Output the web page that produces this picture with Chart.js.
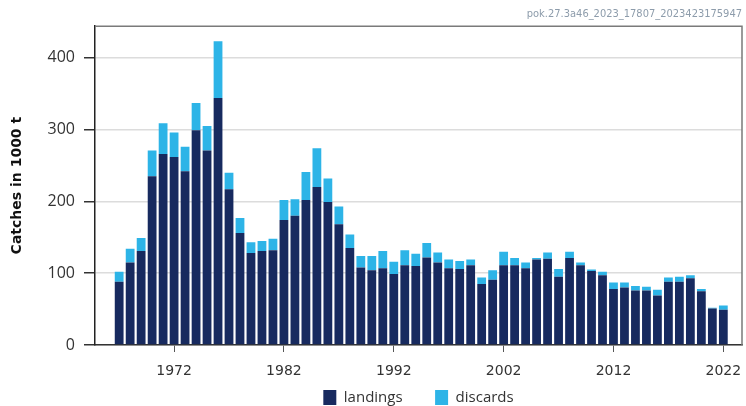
<!DOCTYPE html>
<html>
<head>
<meta charset="utf-8">
<script src="https://cdn.jsdelivr.net/npm/chart.js@4"></script>
<style>
  html, body { margin: 0; padding: 0; background: #fff; }
  canvas { display: block; }
</style>
</head>
<body>
<canvas id="catchChart" width="746" height="406"></canvas>
<script>
const years = Array.from({ length: 56 }, (_, i) => 1967 + i);
const landings = [
  88, 115, 131, 235, 266, 262, 242, 299, 271, 344,
  217, 156, 128, 131, 132, 174, 180, 202, 220, 199,
  168, 135, 108, 104, 107, 99, 111, 110, 122, 115,
  107, 106, 111, 85, 91, 111, 111, 107, 119, 120,
  95, 121, 111, 103, 97, 78, 80, 76, 76, 69,
  88, 88, 93, 75, 51, 49
];
const discards = [
  14, 19, 18, 36, 43, 34, 34, 38, 34, 79,
  23, 21, 15, 14, 16, 28, 23, 39, 54, 33,
  25, 19, 16, 20, 24, 17, 21, 17, 20, 14,
  12, 11, 8, 9, 13, 19, 10, 8, 2, 9,
  11, 9, 4, 2, 5, 9, 7, 6, 5, 8,
  6, 7, 4, 3, 1, 6
];
const xTicks = [1972, 1982, 1992, 2002, 2012, 2022];
const yTicks = [0, 100, 200, 300, 400];

// grey frame on top and right of the plot
const frame = {
  id: 'frame',
  afterDatasetsDraw(chart) {
    const { ctx, chartArea: a } = chart;
    ctx.save();
    ctx.strokeStyle = '#7a7a7a';
    ctx.lineWidth = 1.5;
    ctx.beginPath();
    ctx.moveTo(a.left, a.top);
    ctx.lineTo(a.right, a.top);
    ctx.lineTo(a.right, a.bottom);
    ctx.stroke();
    ctx.restore();
  }
};

new Chart(document.getElementById('catchChart'), {
  type: 'bar',
  data: {
    datasets: [
      {
        label: 'landings',
        data: years.map((y, i) => ({ x: y, y: landings[i] })),
        backgroundColor: '#172a5f',
        categoryPercentage: 1,
        barPercentage: 0.8
      },
      {
        label: 'discards',
        data: years.map((y, i) => ({ x: y, y: discards[i] })),
        backgroundColor: '#2db4e7',
        categoryPercentage: 1,
        barPercentage: 0.8
      }
    ]
  },
  options: {
    responsive: false,
    animation: false,
    layout: { padding: { left: 0, right: 4, top: 0, bottom: 0 } },
    plugins: {
      title: {
        display: true,
        text: 'pok.27.3a46_2023_17807_2023423175947',
        align: 'end',
        color: '#8d9cab',
        font: { family: 'DejaVu Sans Condensed', size: 11, weight: 'normal' },
        padding: { top: 8, bottom: 5 }
      },
      legend: {
        position: 'bottom',
        fullSize: false,
        maxHeight: 26,
        labels: {
          boxWidth: 13,
          boxHeight: 15,
          padding: 10,
          color: '#333',
          font: { family: 'Open Sans', size: 15 },
          generateLabels(chart) {
            const items = Chart.defaults.plugins.legend.labels.generateLabels(chart);
            items[0].text += '\u2002\u2002\u2002';
            return items;
          }
        }
      },
      tooltip: { enabled: false }
    },
    scales: {
      x: {
        type: 'linear',
        stacked: true,
        offset: false,
        min: 1964.8,
        max: 2023.7,
        afterBuildTicks(scale) {
          scale.ticks = xTicks.map(v => ({ value: v }));
        },
        afterFit(scale) {
          scale.height = 35;
          scale.paddingLeft = 0;
          scale.paddingRight = 0;
        },
        grid: {
          offset: false,
          drawOnChartArea: false,
          tickLength: 7,
          tickColor: '#555'
        },
        border: { color: '#333', width: 1.5 },
        ticks: {
          padding: 11,
          color: '#333',
          maxRotation: 0,
          autoSkip: false,
          font: { family: 'DejaVu Sans', size: 14 },
          callback(value) {
            return String(value);
          }
        }
      },
      y: {
        stacked: true,
        min: 0,
        max: 444,
        afterBuildTicks(scale) {
          scale.ticks = yTicks.map(v => ({ value: v }));
        },
        afterFit(scale) {
          scale.width = 95;
          scale.paddingTop = 0;
          scale.paddingBottom = 0;
        },
        grid: {
          color: '#dcdcdc',
          lineWidth: 1.5,
          tickLength: 11,
          tickColor: '#333'
        },
        border: { color: '#222', width: 1.5 },
        ticks: {
          padding: 9,
          color: '#333',
          font: { family: 'Open Sans', size: 16 }
        },
        title: {
          display: true,
          text: 'Catches in 1000 t',
          color: '#111',
          font: { family: 'DejaVu Sans', size: 14, weight: 'bold' },
          padding: { top: 9, bottom: 0 }
        }
      }
    }
  },
  plugins: [frame]
});
</script>
</body>
</html>
